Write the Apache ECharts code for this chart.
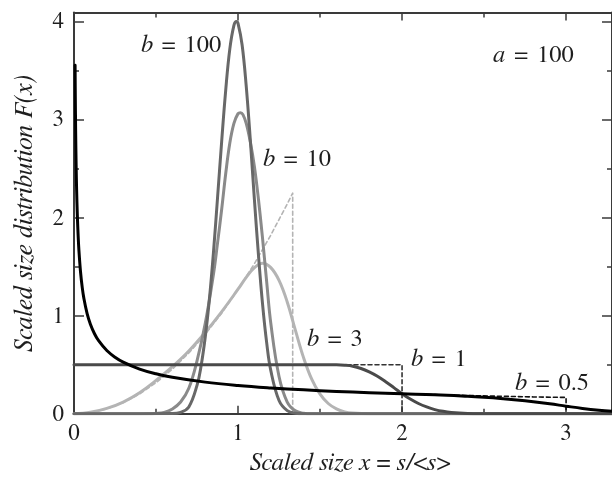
<!DOCTYPE html>
<html><head><meta charset="utf-8">
<script src="https://cdn.jsdelivr.net/npm/echarts@6/dist/echarts.min.js"></script>
<style>html,body{margin:0;padding:0;background:#fff}#c{width:612px;height:480px}</style>
</head><body><div id="c"></div>
<script>
// ---- data ----
const b05X = [0.0066,0.008,0.01,0.013,0.016,0.02,0.025,0.03,0.04,0.05,0.06,0.08,0.1,0.125,0.15,0.2,0.25,0.3,0.4,0.5,0.6,0.8,1.0,1.2,1.4,1.6,1.8,2.0,2.2,2.4,2.5,2.6,2.7,2.8,2.9,3.0,3.1,3.2,3.3];
const b05Y = [3.553,3.228,2.887,2.532,2.282,2.041,1.826,1.667,1.443,1.291,1.179,1.021,0.913,0.816,0.745,0.645,0.577,0.527,0.456,0.408,0.373,0.323,0.289,0.264,0.244,0.228,0.215,0.204,0.194,0.178,0.168,0.156,0.141,0.123,0.102,0.078,0.055,0.037,0.024];

const b1X = [0,0.5,1.0,1.5,1.6,1.65,1.7,1.75,1.8,1.85,1.9,1.95,2.0,2.05,2.1,2.15,2.2,2.25,2.3,2.4,2.5,2.6,3.3];
const b1Y = [0.5,0.5,0.5,0.5,0.499,0.495,0.485,0.462,0.427,0.382,0.327,0.267,0.205,0.15,0.105,0.07,0.043,0.025,0.014,0.004,0.001,0,0];

const b3X = [0,0.1,0.2,0.3,0.4,0.5,0.6,0.7,0.8,0.9,1.0,1.05,1.1,1.15,1.2,1.25,1.3,1.35,1.4,1.45,1.5,1.55,1.6,1.65,1.7,1.8,3.3];
const b3Y = [0,0.015,0.055,0.12,0.215,0.34,0.48,0.64,0.83,1.04,1.27,1.39,1.49,1.535,1.49,1.36,1.14,0.85,0.57,0.35,0.2,0.105,0.05,0.02,0.007,0,0];

const b10X = [0,0.45,0.5,0.55,0.6,0.65,0.7,0.75,0.8,0.85,0.875,0.9,0.925,0.95,0.975,1.0,1.015,1.03,1.05,1.075,1.1,1.125,1.15,1.175,1.2,1.25,1.3,1.35,1.4,1.45,3.3];
const b10Y = [0,0,0.003,0.015,0.05,0.12,0.26,0.54,0.92,1.42,1.74,2.08,2.45,2.76,2.96,3.06,3.07,3.05,2.96,2.77,2.52,2.18,1.78,1.34,0.92,0.38,0.12,0.03,0.006,0,0];

const b100X = [0,0.6,0.65,0.7,0.75,0.775,0.8,0.825,0.85,0.875,0.9,0.925,0.95,0.975,0.99,1.0,1.025,1.05,1.075,1.1,1.125,1.15,1.175,1.2,1.25,1.3,1.35,1.4,3.3];
const b100Y = [0,0.002,0.015,0.07,0.29,0.49,0.78,1.16,1.64,2.2,2.77,3.3,3.72,3.96,4.0,3.98,3.76,3.34,2.79,2.18,1.61,1.11,0.72,0.44,0.136,0.033,0.006,0.001,0];

// limiting (dashed) distributions
const lim3X = [0,0.1,0.2,0.3,0.4,0.5,0.6,0.7,0.8,0.9,1.0,1.1,1.2,1.3,1.3333,1.3333];
const lim3Y = [0,0.0127,0.0506,0.1139,0.2025,0.3164,0.4556,0.6202,0.81,1.0252,1.2656,1.5314,1.8225,2.1389,2.25,0];
const lim1X = [0,2,2];
const lim1Y = [0.5,0.5,0];
const lim05X = [1.6,1.8,2.0,2.2,2.4,2.6,2.8,3.0,3.0];
const lim05Y = [0.228,0.215,0.204,0.195,0.186,0.179,0.172,0.167,0];

const xTicksMajor = 1, xTicksMinor = 0.5, xMin = 0, xMax = 3.28;
const yTicksMajor = 1, yTicksMinor = 0.5, yMin = 0, yMax = 4.09;

// ---- chart ----
const FONT = 'FreeSerif, "Liberation Serif", "Times New Roman", serif';
const AX = '#3a3a3a';
const TXT = '#1e1e1e';
const zip = (xs, ys) => xs.map((x, i) => [x, ys[i]]);
const intLabel = v => (Math.abs(v - Math.round(v)) < 1e-9 ? String(Math.round(v)) : '');

function xAx(pos, interval, major) {
  return {
    type: 'value', position: pos, min: xMin, max: xMax, interval: interval,
    axisLine: { show: major, onZero: false, lineStyle: { color: AX, width: 2 } },
    axisTick: { show: true, inside: true, length: major ? 8 : 5, lineStyle: { color: AX, width: 1.5 } },
    axisLabel: { show: major && pos === 'bottom', formatter: intLabel, margin: 8, fontFamily: FONT, fontSize: 23, color: TXT, showMaxLabel: false },
    splitLine: { show: false }
  };
}
function yAx(pos, interval, major) {
  return {
    type: 'value', position: pos, min: yMin, max: yMax, interval: interval,
    axisLine: { show: major, onZero: false, lineStyle: { color: AX, width: 2 } },
    axisTick: { show: true, inside: true, length: major ? 10 : 5, lineStyle: { color: AX, width: 1.5 } },
    axisLabel: { show: major && pos === 'left', formatter: intLabel, margin: 10, fontFamily: FONT, fontSize: 23, color: TXT, showMaxLabel: false },
    splitLine: { show: false }
  };
}

const xAxes = [xAx('bottom', xTicksMajor, true), xAx('bottom', xTicksMinor, false), xAx('top', xTicksMajor, true), xAx('top', xTicksMinor, false)];
Object.assign(xAxes[0], {
  name: 'Scaled size x {n|=} s/<s>', nameLocation: 'middle', nameGap: 34,
  nameTextStyle: { fontFamily: FONT, fontSize: 25, fontStyle: 'italic', color: TXT, padding: [0, 0, 0, 14],
    rich: { n: { fontFamily: FONT, fontSize: 25, fontStyle: 'normal', color: TXT } } }
});
const yAxes = [yAx('left', yTicksMajor, true), yAx('left', yTicksMinor, false), yAx('right', yTicksMajor, true), yAx('right', yTicksMinor, false)];
Object.assign(yAxes[0], {
  name: 'Scaled size distribution F(x)', nameLocation: 'middle', nameGap: 37,
  nameTextStyle: { fontFamily: FONT, fontSize: 26, fontStyle: 'italic', color: TXT }
});

function line(data, color, width, dash) {
  return {
    type: 'line', data: data, showSymbol: false, symbol: 'none', silent: true,
    smooth: dash ? false : 0.4,
    lineStyle: { color: color, width: width, type: dash ? [4, 3] : 'solid', join: 'round', cap: 'round' },
    xAxisIndex: 0, yAxisIndex: 0, z: 2
  };
}

const series = [
  line(zip(lim3X, lim3Y), '#b4b4b4', 1.6, true),
  line(zip(lim1X, lim1Y), '#333333', 1.6, true),
  line(zip(lim05X, lim05Y), '#111111', 1.6, true),
  line(zip(b3X, b3Y), '#b4b4b4', 3, false),
  line(zip(b10X, b10Y), '#8a8a8a', 3, false),
  line(zip(b100X, b100Y), '#686868', 3, false),
  line(zip(b1X, b1Y), '#4a4a4a', 3, false),
  line(zip(b05X, b05Y), '#000000', 3, false)
];

function ann(x, y, v, p) {
  return {
    type: 'text', x: x, y: y, silent: true,
    style: {
      text: '{i|' + v + '}{e|=}{n|' + p + '}', verticalAlign: 'middle', align: 'left',
      rich: {
        i: { fontFamily: FONT, fontSize: 24.5, fontStyle: 'italic', fill: TXT },
        e: { fontFamily: FONT, fontSize: 24.5, fill: TXT, padding: [0, 9, 0, 9] },
        n: { fontFamily: FONT, fontSize: 24.5, fill: TXT }
      }
    }
  };
}

const chart = echarts.init(document.getElementById('c'), null, { renderer: 'canvas' });
chart.setOption({
  animation: false,
  backgroundColor: '#fff',
  grid: { left: 74, top: 12.6, width: 542.2, height: 401.2 },
  xAxis: xAxes,
  yAxis: yAxes,
  series: series,
  graphic: [
    ann(141, 45, 'b', '100'),
    ann(263, 159, 'b', '10'),
    ann(307, 339, 'b', '3'),
    ann(411, 359, 'b', '1'),
    ann(515, 383, 'b', '0.5'),
    ann(493, 55, 'a', '100')
  ]
});
</script></body></html>
